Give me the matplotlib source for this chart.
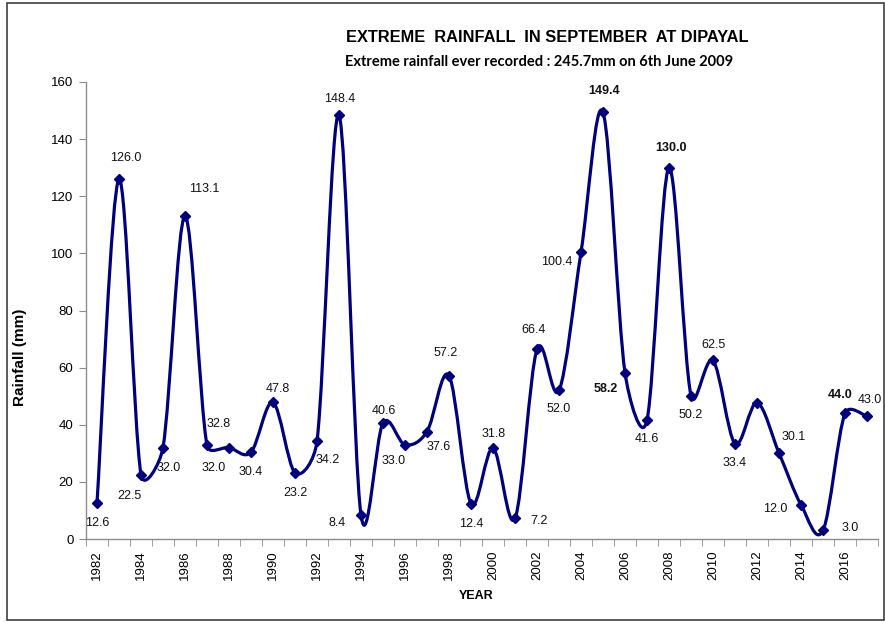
import numpy as np
import matplotlib
matplotlib.use("Agg")
import matplotlib.pyplot as plt
from matplotlib.path import Path
from matplotlib.patches import PathPatch, Rectangle

# --- data -------------------------------------------------------------
years = list(range(1982, 2018))
rainfall = [12.6, 126.0, 22.5, 32.0, 113.1, 32.8, 32.0, 30.4, 47.8, 23.2,
            34.2, 148.4, 8.4, 40.6, 33.0, 37.6, 57.2, 12.4, 31.8, 7.2,
            66.4, 52.0, 100.4, 149.4, 58.2, 41.6, 130.0, 50.2, 62.5, 33.4,
            47.7, 30.1, 12.0, 3.0, 44.0, 43.0]
y_ticks = [0, 20, 40, 60, 80, 100, 120, 140, 160]

# label placement (pixel offsets from each marker, +dy = downwards)
label_offsets = {
    1982: (0, 20), 1983: (7, -21), 1984: (-12, 21), 1985: (6, 20),
    1986: (19, -27), 1987: (12, -21), 1988: (-15, 20), 1989: (0, 20),
    1990: (5, -13), 1991: (0, 20), 1992: (11, 19), 1993: (1, -16),
    1994: (-24, 8), 1995: (1, -12), 1996: (-11, 16), 1997: (12, 15),
    1998: (-3, -23), 1999: (0, 20), 2000: (1, -14), 2001: (24, 3),
    2002: (-3, -19), 2003: (0, 19), 2004: (-24, 10), 2005: (1, -21),
    2006: (-19, 16), 2007: (0, 19), 2008: (2, -20), 2009: (0, 19),
    2010: (1, -15), 2011: (0, 19), 2013: (15, -16), 2014: (-26, 4),
    2015: (27, -2), 2016: (-5, -18), 2017: (3, -16),
}
bold_labels = {2005, 2006, 2008, 2016}

LINE = "#00007f"
FONT = "Liberation Sans"

fig = plt.figure(figsize=(8.85, 6.22), dpi=100)
fig.patch.set_facecolor("white")
ax = fig.add_axes([86 / 885, 1 - 539 / 622, 792 / 885, (539 - 82) / 622])

x = np.arange(len(years))
ax.set_xlim(-0.5, len(years) - 0.5)
ax.set_ylim(0, 160)

# smoothed line: Catmull-Rom Bezier in display space, with each control
# handle limited to half of its segment length
pts = ax.transData.transform(np.column_stack([x, rainfall]))
n = len(pts)
verts = [pts[0]]
codes = [Path.MOVETO]


def handle(vec, limit):
    v = vec / 6.0
    length = np.hypot(*v)
    if length > limit and length > 0:
        v = v * (limit / length)
    return v


for i in range(n - 1):
    p0 = pts[i - 1] if i > 0 else pts[i]
    p1 = pts[i]
    p2 = pts[i + 1]
    p3 = pts[i + 2] if i + 2 < n else pts[i + 1]
    half = np.hypot(*(p2 - p1)) / 2.0
    c1 = p1 + handle(p2 - p0, half)
    c2 = p2 - handle(p3 - p1, half)
    verts += [c1, c2, p2]
    codes += [Path.CURVE4] * 3
verts = ax.transData.inverted().transform(np.array(verts))
ax.add_patch(PathPatch(Path(verts, codes), fill=False, edgecolor=LINE,
                       linewidth=2.3, capstyle="round", joinstyle="round",
                       zorder=3))
ax.plot(x, rainfall, linestyle="none", marker="D", markersize=5.5,
        color=LINE, zorder=4)

# data labels
for xi, yr, v in zip(x, years, rainfall):
    if yr not in label_offsets:
        continue
    dx, dy = label_offsets[yr]
    ax.annotate(f"{v:.1f}", (xi, v), xytext=(dx, -dy),
                textcoords="offset pixels", ha="center", va="center",
                fontsize=9, family=FONT,
                fontweight="bold" if yr in bold_labels else "normal",
                color="#111111", zorder=5)

# axes styling
for side in ("top", "right"):
    ax.spines[side].set_visible(False)
for side in ("left", "bottom"):
    ax.spines[side].set_color("#8c8c8c")
    ax.spines[side].set_linewidth(1.0)

ax.set_yticks(y_ticks)
ax.set_yticklabels([str(t) for t in y_ticks], family=FONT, fontsize=9.5)
ax.tick_params(axis="y", length=5, color="#8c8c8c", pad=4)

ax.set_xticks(x[::2])
ax.set_xticklabels([str(y) for y in years[::2]], rotation=90,
                   family=FONT, fontsize=9.5)
ax.set_xticks(np.arange(-0.5, len(years)), minor=True)
ax.tick_params(axis="x", which="major", length=0, pad=8)
ax.tick_params(axis="x", which="minor", length=5, color="#8c8c8c")

fig.text(20 / 885, 1 - 357 / 622, "Rainfall (mm)", rotation=90,
         ha="center", va="center", family=FONT, fontweight="bold",
         fontsize=11)
fig.text(476 / 885, 1 - 596 / 622, "YEAR", ha="center", va="center",
         family=FONT, fontweight="bold", fontsize=9)

fig.text(547 / 885, 1 - 37 / 622,
         "EXTREME  RAINFALL  IN SEPTEMBER  AT DIPAYAL",
         ha="center", va="center", family=FONT, fontweight="bold",
         fontsize=11.8)
fig.text(539 / 885, 1 - 62 / 622,
         "Extreme rainfall ever recorded : 245.7mm on 6th June 2009",
         ha="center", va="center", family="Lato", fontweight="bold",
         fontsize=10.5)

# outer frame
fig.patches.append(Rectangle((7 / 885, 1 - 620 / 622), 877 / 885,
                             617 / 622, transform=fig.transFigure,
                             fill=False, edgecolor="#404040",
                             linewidth=1.2))

fig.savefig("out.png", dpi=100)
